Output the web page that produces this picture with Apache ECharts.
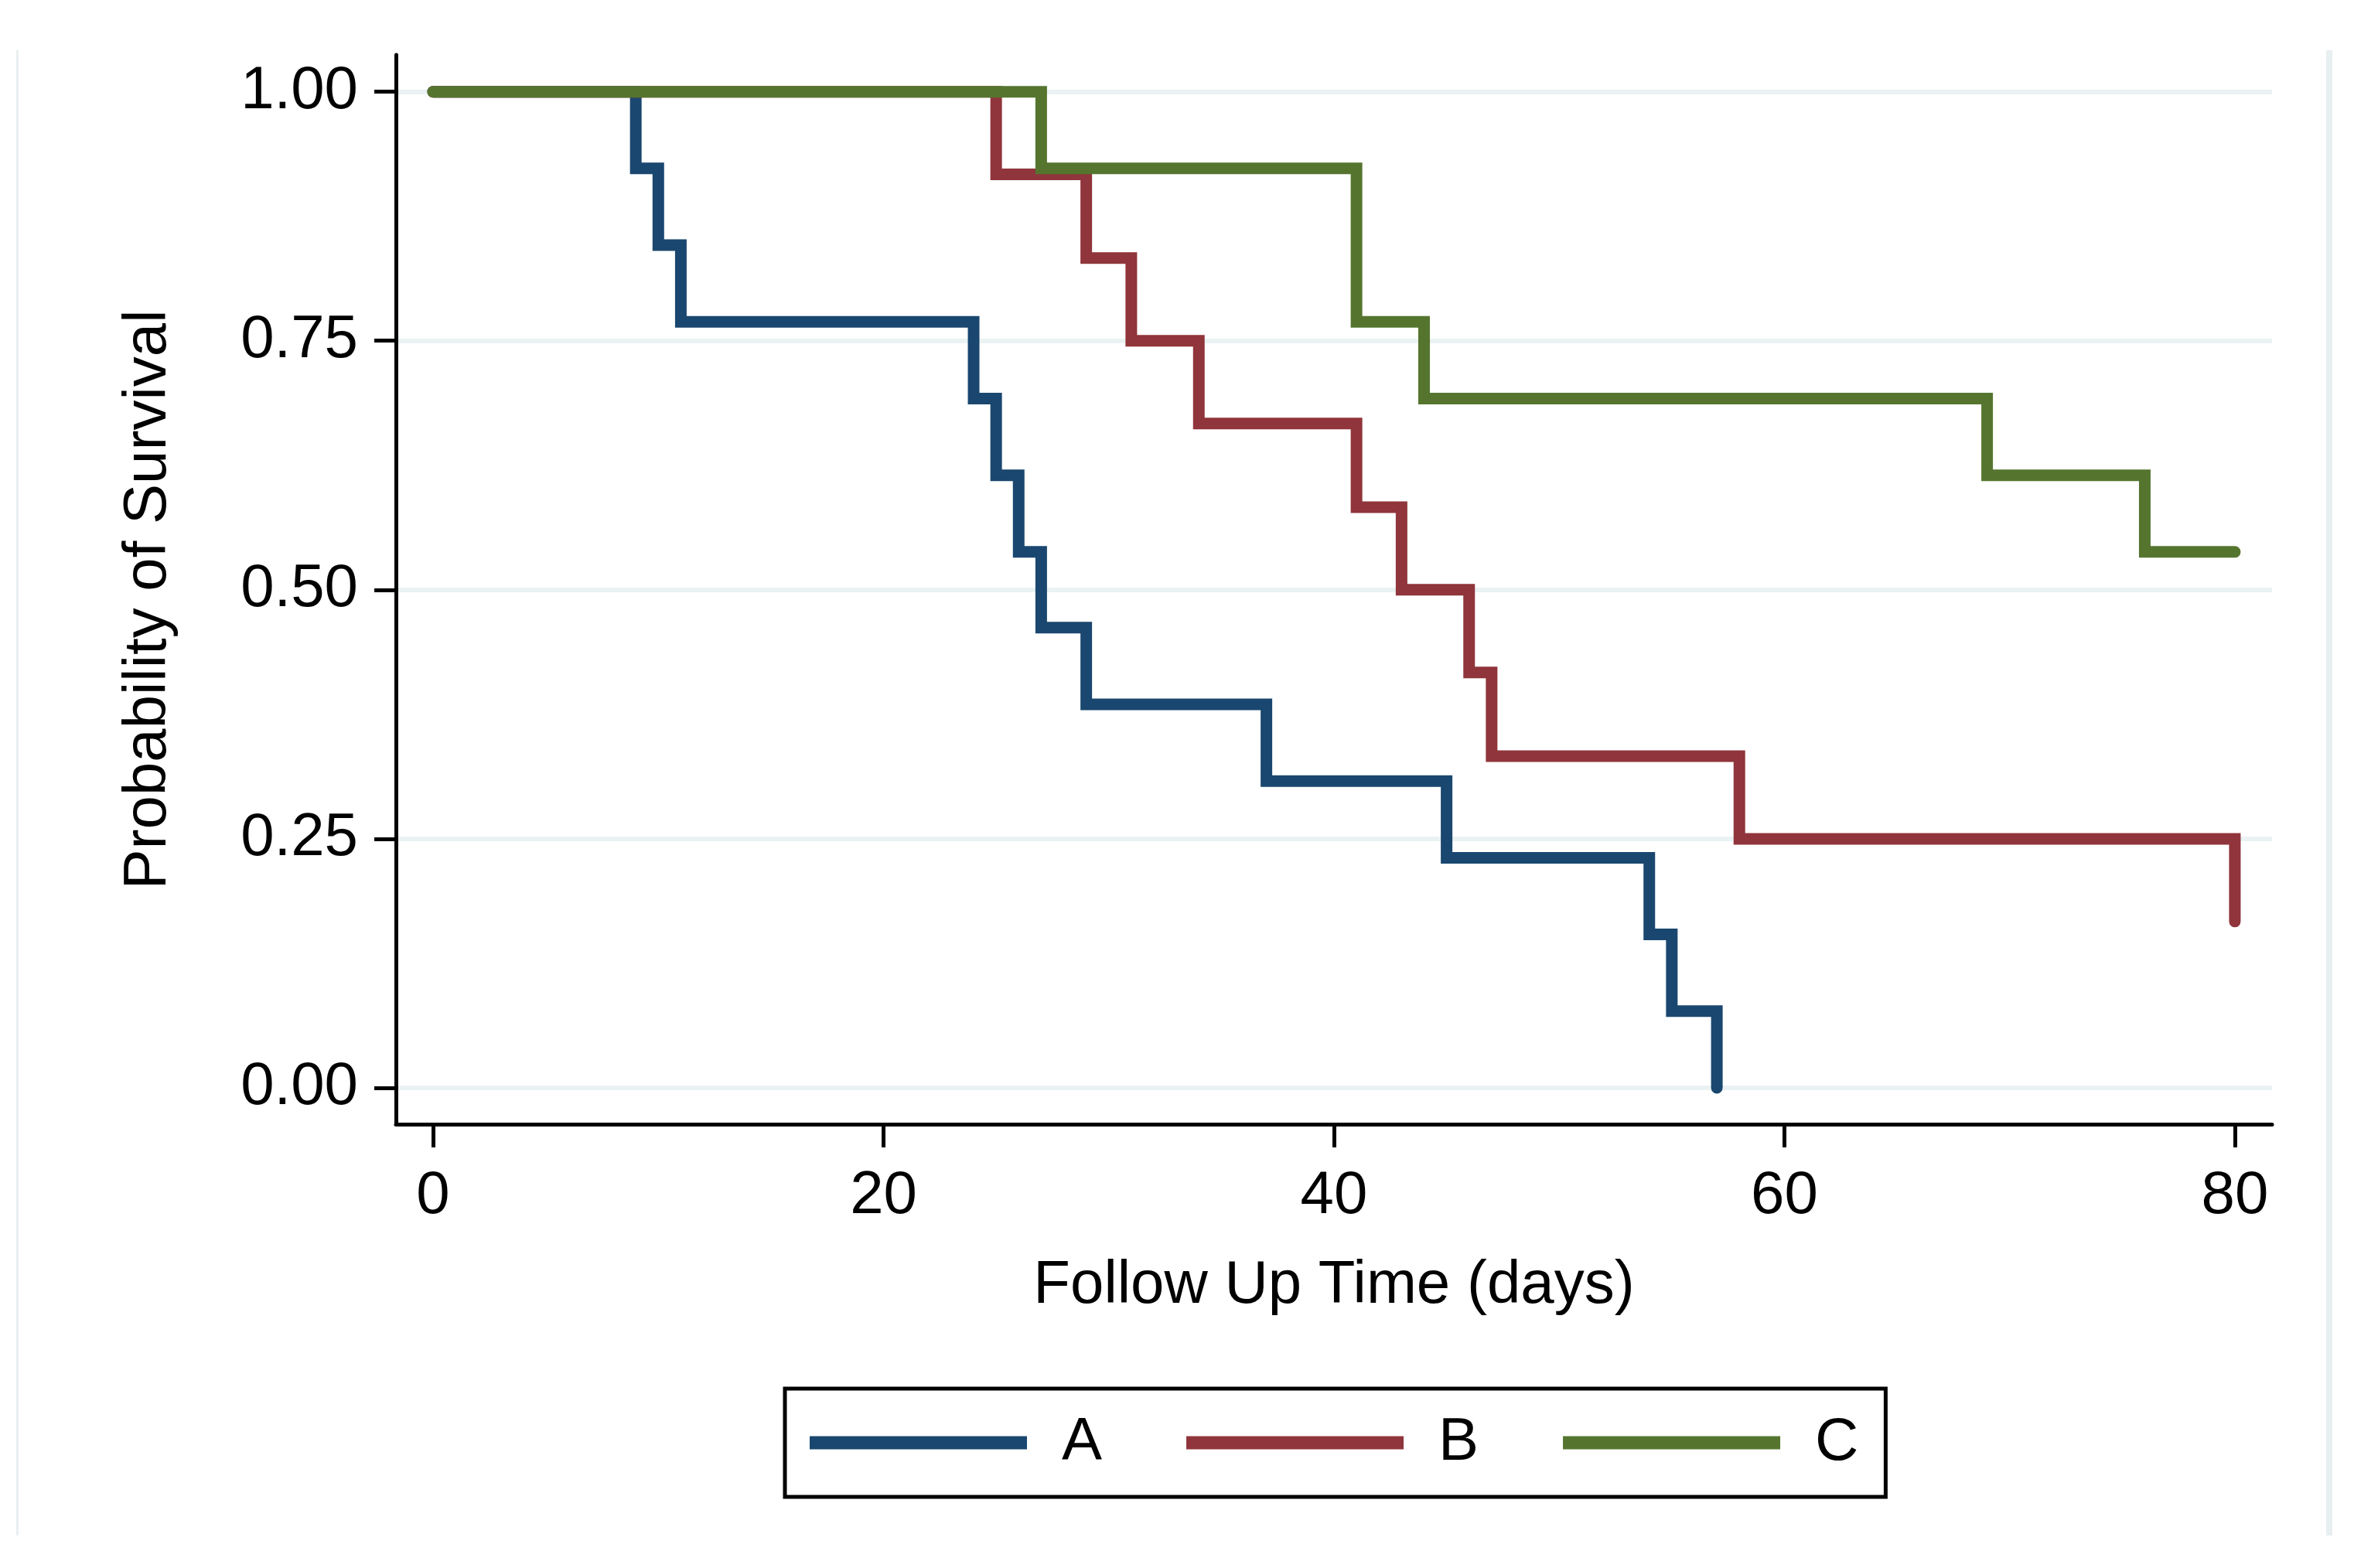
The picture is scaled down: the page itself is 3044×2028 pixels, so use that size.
<!DOCTYPE html>
<html>
<head>
<meta charset="utf-8">
<title>Survival</title>
<script src="https://cdn.jsdelivr.net/npm/echarts@6/dist/echarts.min.js"></script>
<style>
  html, body { margin: 0; padding: 0; background: #fff; }
  #chart { width: 3044px; height: 2028px; }
</style>
</head>
<body>
<div id="chart"></div>
<script>
// Kaplan-Meier steps (time in days, survival prob.)
const groupNames = ['A', 'B', 'C'];
const timeA = [0, 9, 10, 11, 24, 25, 26, 27, 29, 37, 45, 54, 55, 57];
const survA = [1, 0.923, 0.846, 0.769, 0.692, 0.615, 0.538, 0.462, 0.385, 0.308, 0.231, 0.154, 0.077, 0];
const timeB = [0, 25, 29, 31, 34, 41, 43, 46, 47, 58, 80];
const survB = [1, 0.917, 0.833, 0.75, 0.667, 0.583, 0.5, 0.417, 0.333, 0.25, 0.167];
const timeC = [0, 27, 41, 44, 69, 76, 80];
const survC = [1, 0.923, 0.769, 0.692, 0.615, 0.538, 0.538];

const xTicks = [0, 20, 40, 60, 80];
const yTicks = [0, 0.25, 0.5, 0.75, 1];

const colors = ['#1a476f', '#90353b', '#55752f'];
const FONT = 'Liberation Sans, Arial, sans-serif';

const pairs = (t, s) => t.map((v, i) => [v, s[i]]);
const seriesData = [pairs(timeA, survA), pairs(timeB, survB), pairs(timeC, survC)];

const chart = echarts.init(document.getElementById('chart'));

chart.setOption({
  animation: false,
  backgroundColor: '#fff',
  textStyle: { fontFamily: FONT, color: '#000' },
  grid: { left: 512, right: 106, top: 71, bottom: 574, containLabel: false },
  xAxis: {
    type: 'value',
    min: -1.65,
    max: 81.65,
    name: 'Follow Up Time (days)',
    nameLocation: 'middle',
    nameGap: 170,
    nameTextStyle: { fontSize: 78, lineHeight: 78, color: '#000', fontFamily: FONT },
    axisLine: { onZero: false, lineStyle: { color: '#000', width: 5 } },
    axisTick: { show: true, length: 30, lineStyle: { color: '#000', width: 5 }, customValues: xTicks },
    axisLabel: { fontSize: 78, lineHeight: 78, color: '#000', margin: 54, customValues: xTicks, fontFamily: FONT },
    splitLine: { show: false }
  },
  yAxis: {
    type: 'value',
    min: -0.0365,
    max: 1.037,
    name: 'Probability of Survival',
    nameLocation: 'middle',
    nameGap: 281,
    nameRotate: 90,
    nameTextStyle: { fontSize: 78, lineHeight: 78, color: '#000', fontFamily: FONT, padding: [0, 26, 0, 0] },
    axisLine: { onZero: false, lineStyle: { color: '#000', width: 5 } },
    axisTick: { show: true, length: 28, lineStyle: { color: '#000', width: 5 }, customValues: yTicks },
    axisLabel: {
      fontSize: 78, color: '#000', margin: 49, customValues: yTicks, fontFamily: FONT,
      formatter: (v) => v.toFixed(2)
    },
    splitLine: { show: true, lineStyle: { color: '#eaf2f3', width: 6 } }
  },
  legend: {
    left: 1015,
    top: 1796,
    orient: 'horizontal',
    data: groupNames.map((n) => ({ name: n, icon: 'rect' })),
    itemWidth: 281,
    itemHeight: 17,
    itemGap: 109,
    padding: [30, 35, 30, 32],
    borderColor: '#000',
    borderWidth: 5,
    backgroundColor: '#fff',
    textStyle: { fontSize: 78, lineHeight: 80, color: '#000', fontFamily: FONT, padding: [0, 0, 0, 40] }
  },
  graphic: [
    { type: 'rect', shape: { x: 21, y: 65, width: 3, height: 1921 }, style: { fill: '#e8eff0' }, silent: true },
    { type: 'rect', shape: { x: 3008, y: 65, width: 8, height: 1921 }, style: { fill: '#e8eff0' }, silent: true }
  ],
  series: groupNames.map((n, i) => ({
    name: n,
    type: 'line',
    step: 'end',
    symbol: 'none',
    data: seriesData[i],
    color: colors[i],
    lineStyle: { width: 15, color: colors[i], cap: 'round', join: 'miter' },
    itemStyle: { color: colors[i] }
  }))
});
</script>
</body>
</html>
